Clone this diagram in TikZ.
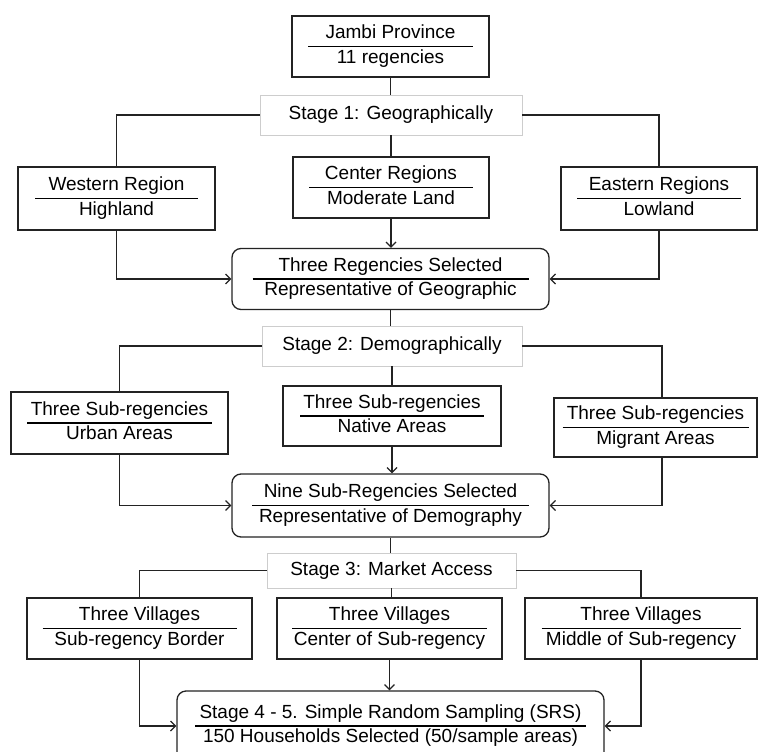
\documentclass[tikz,border=0pt]{standalone}
\usepackage{fontspec}
\setmainfont{Liberation Sans}
\usetikzlibrary{arrows.meta}

\definecolor{stageColor}{RGB}{205,205,205}
\definecolor{lineColor}{RGB}{35,35,35}
\setlength{\arrayrulewidth}{1.3pt}
\newcommand{\twolines}[3]{{\setlength{\tabcolsep}{0pt}\begin{tabular}{c}\makebox[#1]{#2}\\\hline #3\end{tabular}}}

\begin{document}
\begin{tikzpicture}[x=1pt,y=-1pt,
  box/.style={draw=lineColor, line width=1.3pt, minimum height=61pt, inner sep=0pt,
    font=\fontsize{19}{23}\selectfont},
  selbox/.style={box, rounded corners=9pt, minimum width=317pt},
  stagebox/.style={draw=stageColor, line width=0.6pt, fill=white, minimum height=40pt,
    inner sep=0pt, font=\fontsize{19}{23}\selectfont},
  link/.style={draw=lineColor, line width=1.2pt},
  arr/.style={link, -{Straight Barb[length=5pt,width=10pt]}}]
  \useasboundingbox (0,0) rectangle (759,751);
  % Province
  \node[box, minimum width=197pt] (jambi) at (390.5,46.5) {\twolines{165pt}{Jambi Province}{11 regencies}};
  % Stage 1
  \node[stagebox, minimum width=262pt] (stage1) at (391,115) {Stage 1: Geographically};
  \node[box, minimum width=197pt, minimum height=63pt] (western) at (116.5,198.5) {\twolines{163pt}{Western Region}{Highland}};
  \node[box, minimum width=196pt] (center) at (391,187.5) {\twolines{164pt}{Center Regions}{Moderate Land}};
  \node[box, minimum width=196pt, minimum height=63pt] (eastern) at (659,198.5) {\twolines{164pt}{Eastern Regions}{Lowland}};
  \node[selbox] (regsel) at (390.5,279) {\twolines{276pt}{Three Regencies Selected}{Representative of Geographic}};
  % Stage 2
  \node[stagebox, minimum width=260pt] (stage2) at (392,346) {Stage 2: Demographically};
  \node[box, minimum width=217pt, minimum height=62pt] (urban) at (119.5,423) {\twolines{185pt}{Three Sub-regencies}{Urban Areas}};
  \node[box, minimum width=218pt, minimum height=60pt] (native) at (392,416) {\twolines{184pt}{Three Sub-regencies}{Native Areas}};
  \node[box, minimum width=203pt, minimum height=59pt] (migrant) at (655.5,427.5) {\twolines{186pt}{Three Sub-regencies}{Migrant Areas}};
  \node[selbox, minimum height=63pt] (subsel) at (390.5,505.5) {\twolines{277pt}{Nine Sub-Regencies Selected}{Representative of Demography}};
  % Stage 3
  \node[stagebox, minimum width=249pt, minimum height=35pt] (stage3) at (391.5,570.5) {Stage 3: Market Access};
  \node[box, minimum width=225pt] (border) at (139.5,628.5) {\twolines{194pt}{Three Villages}{Sub-regency Border}};
  \node[box, minimum width=225pt] (centervil) at (389.5,628.5) {\twolines{195pt}{Three Villages}{Center of Sub-regency}};
  \node[box, minimum width=232pt] (middle) at (641,628.5) {\twolines{199pt}{Three Villages}{Middle of Sub-regency}};
  % Stage 4 - 5
  \node[selbox, minimum width=427pt, minimum height=70pt] (srs) at (390.5,726) {\twolines{391pt}{Stage 4 - 5. Simple Random Sampling (SRS)}{150 Households Selected (50/sample areas)}};
  % Links
  \draw[link] (jambi.south) -- (jambi.south |- stage1.north);
  \draw[link] (stage1.west) -| (western.north);
  \draw[link] (stage1.east) -| (eastern.north);
  \draw[link] (stage1.south) -- (stage1.south |- center.north);
  \draw[arr] (center) -- (center |- regsel.north);
  \draw[arr] (western) |- (regsel);
  \draw[arr] (eastern) |- (regsel);
  \draw[link] (regsel.south) -- (regsel.south |- stage2.north);
  \draw[link] (stage2.west) -| (urban.north);
  \draw[link] (stage2.east) -| ([xshift=6.5pt]migrant.north);
  \draw[link] (stage2.south) -- (stage2.south |- native.north);
  \draw[arr] (native) -- (native |- subsel.north);
  \draw[arr] (urban) |- (subsel);
  \draw[arr] ([xshift=6.5pt]migrant.south) |- (subsel);
  \draw[link] (subsel.south) -- (subsel.south |- stage3.north);
  \draw[link] (stage3.west) -| (border.north);
  \draw[link] (stage3.east) -| (middle.north);
  \draw[link] (stage3.south) -- (stage3.south |- centervil.north);
  \draw[arr] (centervil) -- (centervil |- srs.north);
  \draw[arr] (border) |- (srs);
  \draw[arr] (middle) |- (srs);
\end{tikzpicture}
\end{document}
